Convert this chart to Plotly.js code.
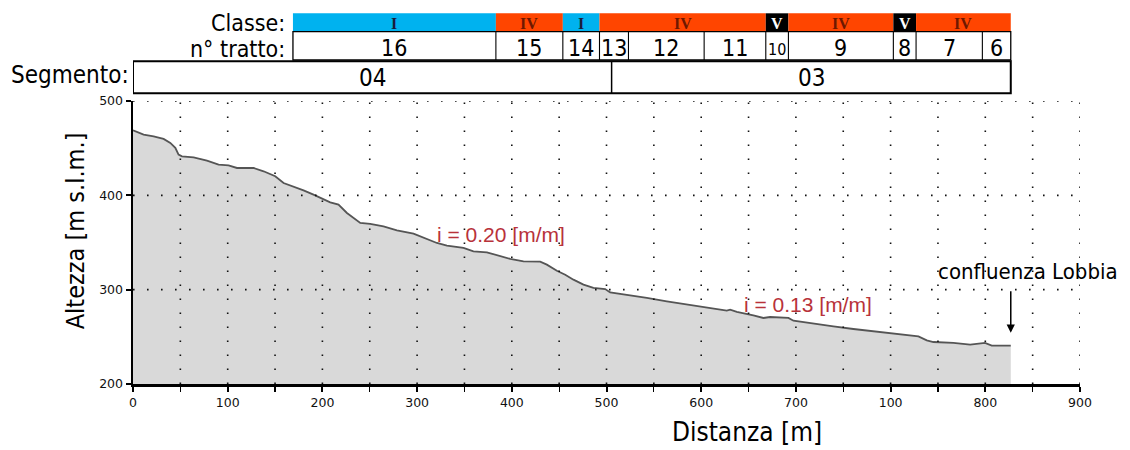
<!DOCTYPE html>
<html>
<head>
<meta charset="utf-8">
<script src="https://cdn.plot.ly/plotly-3.0.1.min.js"></script>
<style>html,body{margin:0;padding:0;background:#fff;}#chart{width:1130px;height:450px;}</style>
</head>
<body>
<div id="chart"></div>
<script>
// ---- Data (axis units) ----
const profileX = [0, 11.2, 21.8, 32.3, 39.4, 44.7, 48.1, 51.7, 64, 78.1, 90.4, 100.9, 109.8, 127.3, 137.9, 150.2, 159, 169.5, 180.1, 190.6, 201.2, 208.3, 217, 225.9, 240, 250.5, 264.5, 278.7, 296.2, 303.3, 312, 320.9, 331.5, 349, 359.5, 373.7, 398.3, 412.3, 430, 437, 447.6, 456.4, 465.1, 475.7, 486.2, 498.6, 503.9, 521.5, 542.6, 563.7, 584.8, 606, 612.9, 627, 630.6, 637.6, 655.1, 665.7, 672.7, 692.1, 697.4, 718.5, 739.6, 760.7, 781.8, 799.4, 810, 829.4, 838.2, 845.2, 866.3, 884, 899.7, 906.8, 926.9];
const profileY = [469, 464.4, 462.6, 459.8, 455.6, 450.3, 443.2, 441.4, 440.3, 436.8, 432.6, 431.8, 429, 429, 425.5, 420.2, 413.1, 409.5, 405.3, 400.7, 396.2, 392.6, 390.1, 381.3, 370.7, 369.7, 367.1, 362.9, 359.4, 356.5, 352.3, 349.5, 346.7, 344.2, 340.6, 339.6, 332.6, 330, 329.7, 326.5, 320.1, 315.9, 310.6, 305.3, 301.8, 300.7, 297.1, 294.7, 291.2, 287.6, 284.1, 280.6, 279.5, 277.7, 278.8, 276.4, 272.7, 270, 271, 270, 267.1, 263.9, 261.1, 258.3, 255.8, 253.3, 252.3, 250.5, 246.2, 244.5, 243.5, 241.7, 243.5, 240.6, 240.6];

const xTickVals = [0, 100, 200, 300, 400, 500, 600, 700, 800, 900, 1000];
const xTickText = ['0', '100', '200', '300', '400', '500', '600', '700', '100', '800', '900'];
const yTickVals = [200, 300, 400, 500];

const classeBounds = [168.9, 383.2, 453.9, 492.6, 668.2, 692.1, 802.9, 826.9, 926.9];
const classeLabels = ['I', 'IV', 'I', 'IV', 'V', 'IV', 'V', 'IV'];

const trattoBounds = [168.9, 383.2, 453.9, 492.6, 523.2, 603.1, 668.2, 692.1, 802.9, 826.9, 896.9, 926.9];
const trattoLabels = ['16', '15', '14', '13', '12', '11', '10', '9', '8', '7', '6'];

const segmentBounds = [0, 505.4, 926.9];
const segmentLabels = ['04', '03'];

const slopeLabels = ['i = 0.20 [m/m]', 'i = 0.13 [m/m]'];
const slopeX = [388.3, 713.2];
const slopeY = [358.5, 284.3];

const confluenceX = 926.9;
const confluenceY = 254.4;

// ---- Styles ----
const TECH = '"DejaVu Sans Condensed", "Liberation Sans Narrow", "DejaVu Sans", sans-serif';
const classeColors = {I: '#00B2EF', IV: '#FF4500', V: '#000000'};
const classeText = {I: '#1b1b3a', IV: '#6e1800', V: '#ffffff'};

// header rows in paper coordinates (plot: top=101px, bottom=384px)
const P = py => (384 - py) / 283;
const cTop = P(13.3), cBot = P(31.7);
const tTop = P(31.7), tBot = P(60);
const sTop = P(61.3), sBot = P(93.3);

const shapes = [];
const annotations = [];

// dotted grid drawn above the filled profile (vertical every half tick step, horizontal at y ticks)
const gridLine = {color: '#111', width: 1.6, dash: '1.6px,12.4px'};
const xGridVals = [];
for (let i = 0; i < xTickVals.length; i++) {
  if (i > 0) xGridVals.push((xTickVals[i - 1] + xTickVals[i]) / 2);
  if (i > 0) xGridVals.push(xTickVals[i]);
}
xGridVals.forEach(v => shapes.push({type: 'line', xref: 'x', yref: 'paper', x0: v, x1: v, y0: 0, y1: 1, line: gridLine, layer: 'above'}));
yTickVals.slice(1).forEach(v => shapes.push({type: 'line', xref: 'paper', yref: 'y', x0: 0, x1: 1, y0: v, y1: v, line: gridLine, layer: 'above'}));

for (let i = 0; i < classeLabels.length; i++) {
  const lab = classeLabels[i];
  shapes.push({type: 'rect', xref: 'x', yref: 'paper', x0: classeBounds[i], x1: classeBounds[i + 1], y0: cBot, y1: cTop,
    fillcolor: classeColors[lab], line: {width: 0}, layer: 'above'});
  annotations.push({xref: 'x', yref: 'paper', x: (classeBounds[i] + classeBounds[i + 1]) / 2, y: P(23.0),
    text: '<b>' + lab + '</b>', showarrow: false, xanchor: 'center', yanchor: 'middle',
    font: {family: '"Liberation Serif", "Times New Roman", serif', size: 16, color: classeText[lab]}});
}

shapes.push({type: 'rect', xref: 'x', yref: 'paper', x0: trattoBounds[0], x1: trattoBounds[trattoBounds.length - 1], y0: tBot, y1: tTop,
  fillcolor: 'rgba(0,0,0,0)', line: {color: '#000', width: 1.3}, layer: 'above'});
for (let i = 1; i < trattoBounds.length - 1; i++) {
  shapes.push({type: 'line', xref: 'x', yref: 'paper', x0: trattoBounds[i], x1: trattoBounds[i], y0: tBot, y1: tTop,
    line: {color: '#000', width: 1.1}, layer: 'above'});
}
for (let i = 0; i < trattoLabels.length; i++) {
  const lab = trattoLabels[i];
  annotations.push({xref: 'x', yref: 'paper', x: (trattoBounds[i] + trattoBounds[i + 1]) / 2, y: lab === '10' ? P(49) : P(47.5),
    text: lab, showarrow: false, xanchor: 'center', yanchor: 'middle',
    font: {family: TECH, size: lab === '10' ? 16 : 23, color: '#000'}});
}

shapes.push({type: 'rect', xref: 'x', yref: 'paper', x0: segmentBounds[0], x1: segmentBounds[segmentBounds.length - 1], y0: sBot, y1: sTop,
  fillcolor: 'rgba(0,0,0,0)', line: {color: '#000', width: 2}, layer: 'above'});
for (let i = 1; i < segmentBounds.length - 1; i++) {
  shapes.push({type: 'line', xref: 'x', yref: 'paper', x0: segmentBounds[i], x1: segmentBounds[i], y0: sBot, y1: sTop,
    line: {color: '#000', width: 1.5}, layer: 'above'});
}
for (let i = 0; i < segmentLabels.length; i++) {
  annotations.push({xref: 'x', yref: 'paper', x: (segmentBounds[i] + segmentBounds[i + 1]) / 2, y: P(77.5),
    text: segmentLabels[i], showarrow: false, xanchor: 'center', yanchor: 'middle',
    font: {family: TECH, size: 24, color: '#000'}});
}

// row labels
annotations.push({xref: 'paper', yref: 'paper', x: (287 - 132.7) / 947, y: P(22.5), text: 'Classe:', showarrow: false,
  xanchor: 'right', yanchor: 'middle', font: {family: TECH, size: 23, color: '#000'}});
annotations.push({xref: 'paper', yref: 'paper', x: (287 - 132.7) / 947, y: P(48.5), text: 'n° tratto:', showarrow: false,
  xanchor: 'right', yanchor: 'middle', font: {family: TECH, size: 23, color: '#000'}});
annotations.push({xref: 'paper', yref: 'paper', x: (131 - 132.7) / 947, y: P(75), text: 'Segmento:', showarrow: false,
  xanchor: 'right', yanchor: 'middle', font: {family: TECH, size: 24, color: '#000'}});

// slope labels
for (let i = 0; i < slopeLabels.length; i++) {
  annotations.push({xref: 'x', yref: 'y', x: slopeX[i], y: slopeY[i], text: slopeLabels[i], showarrow: false,
    xanchor: 'center', yanchor: 'middle', font: {family: '"Liberation Sans", Arial, sans-serif', size: 21, color: '#b8323a'}});
}

// confluence
annotations.push({xref: 'x', yref: 'y', x: confluenceX, y: confluenceY, text: '', showarrow: true,
  ax: 0, ay: -43, arrowhead: 2, arrowsize: 1.1, arrowwidth: 1.5, arrowcolor: '#000'});
annotations.push({xref: 'paper', yref: 'paper', x: (1028 - 132.7) / 947, y: P(271), text: 'confluenza Lobbia', showarrow: false,
  xanchor: 'center', yanchor: 'middle', font: {family: TECH, size: 22, color: '#000'}});

// axis titles
annotations.push({xref: 'paper', yref: 'paper', x: (747 - 132.7) / 947, y: P(432), text: 'Distanza [m]', showarrow: false,
  xanchor: 'center', yanchor: 'middle', font: {family: TECH, size: 26, color: '#000'}});
annotations.push({xref: 'paper', yref: 'paper', x: (75 - 132.7) / 947, y: P(231), text: 'Altezza [m s.l.m.]', showarrow: false,
  textangle: -90, xanchor: 'center', yanchor: 'middle', font: {family: TECH, size: 25, color: '#000'}});

const trace = {
  x: profileX, y: profileY, type: 'scatter', mode: 'lines',
  fill: 'tozeroy', fillcolor: '#d9d9d9',
  line: {color: '#555555', width: 1.8}, hoverinfo: 'skip', showlegend: false
};

const tickFont = {family: '"DejaVu Sans", sans-serif', size: 12.5, color: '#111'};

const layout = {
  width: 1130, height: 450,
  margin: {l: 133, r: 50, t: 101, b: 66, pad: 0},
  paper_bgcolor: '#fff', plot_bgcolor: '#fff',
  showlegend: false,
  xaxis: {
    range: [0, 1000], tickmode: 'array', tickvals: xTickVals, ticktext: xTickText,
    showline: true, linecolor: '#000', linewidth: 2.5, zeroline: false,
    ticks: 'outside', ticklen: 5, tickwidth: 2, tickcolor: '#000', tickfont: tickFont,
    showgrid: false, layer: 'above traces',
    minor: {dtick: 50, tick0: 0, ticks: 'outside', ticklen: 5, tickwidth: 1.3, tickcolor: '#000', showgrid: false},
    automargin: false, fixedrange: true
  },
  yaxis: {
    range: [200, 500], tickmode: 'array', tickvals: yTickVals,
    showline: true, linecolor: '#000', linewidth: 2.5, zeroline: false,
    ticks: 'outside', ticklen: 5, tickwidth: 2, tickcolor: '#000', tickfont: tickFont,
    showgrid: false, layer: 'above traces', automargin: false, fixedrange: true
  },
  shapes: shapes,
  annotations: annotations
};

Plotly.newPlot('chart', [trace], layout, {staticPlot: true, displayModeBar: false});
</script>
</body>
</html>
